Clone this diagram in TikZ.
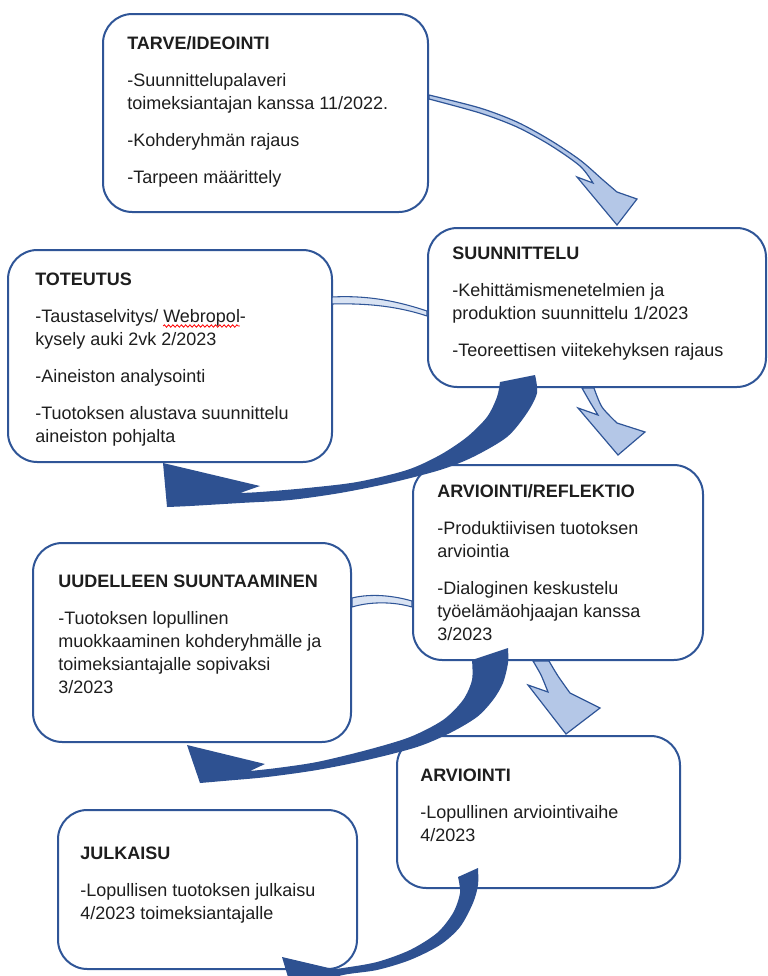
\documentclass[tikz,border=0pt]{standalone}
\usepackage{fontspec}
\setmainfont{Liberation Sans}
\usetikzlibrary{decorations.pathmorphing}
\definecolor{bordblue}{HTML}{2F5597}
\definecolor{darkarrow}{HTML}{2E5191}
\definecolor{lightarrow}{HTML}{B4C7E7}
\definecolor{txt}{HTML}{1E1E1E}
\newlength\wavestart
\newlength\wavelen
\newcommand\lines[1]{\begin{tabular}[t]{@{}l@{}}#1\end{tabular}}
\begin{document}
\settowidth\wavestart{\fontsize{13.5}{17.25}\selectfont -Taustaselvitys/ }%
\settowidth\wavelen{\fontsize{13.5}{17.25}\selectfont Webropol}%
\begin{tikzpicture}[x=0.75pt,y=-0.75pt,
  box/.style={draw=bordblue, line width=1.5pt, fill=white, rounded corners=22pt, inner sep=0pt},
  txtnode/.style={anchor=base west, inner sep=0pt, text=txt, font=\fontsize{13.5}{17.25}\selectfont},
  darr/.style={fill=darkarrow},
  larr/.style={fill=lightarrow, draw=bordblue, line width=0.9pt, line join=miter},
  ribbon/.style={fill=lightarrow!50!white, draw=bordblue, line width=0.8pt}]
\useasboundingbox (0,0) rectangle (768,976);
\clip (0,0) rectangle (768,976);

% boxes
\node[box, minimum width=243.75pt, minimum height=148.5pt] (tarve) at (265.5,113) {};
\node[box, minimum width=253.5pt, minimum height=119.25pt] (suun) at (597,307.5) {};
\node[box, minimum width=243pt, minimum height=159pt] (tot) at (170,356) {};
\node[box, minimum width=217.5pt, minimum height=146.25pt] (arvref) at (558,562.5) {};
\node[box, minimum width=238.5pt, minimum height=149.25pt] (uud) at (192,642.5) {};
\node[box, minimum width=212.25pt, minimum height=114pt] (arv) at (538.5,812) {};
\node[box, minimum width=224.25pt, minimum height=119.25pt] (julk) at (207.5,889.5) {};

% texts
\node[txtnode] (t1) at (127,49) {\lines{\textbf{TARVE/IDEOINTI}\\[10.5pt]-Suunnittelupalaveri\\toimeksiantajan kanssa 11/2022.\\[10.5pt]-Kohderyhmän rajaus\\[10.5pt]-Tarpeen määrittely}};
\node[txtnode] (t2) at (452,259) {\lines{\textbf{SUUNNITTELU}\\[10.5pt]-Kehittämismenetelmien ja\\produktion suunnittelu 1/2023\\[10.5pt]-Teoreettisen viitekehyksen rajaus}};
\node[txtnode] (t3) at (35,285) {\lines{\textbf{TOTEUTUS}\\[10.5pt]-Taustaselvitys/ Webropol-\\kysely auki 2vk 2/2023\\[10.5pt]-Aineiston analysointi\\[10.5pt]-Tuotoksen alustava suunnittelu\\aineiston pohjalta}};
\node[txtnode] (t4) at (437,497) {\lines{\textbf{ARVIOINTI/REFLEKTIO}\\[10.5pt]-Produktiivisen tuotoksen\\arviointia\\[10.5pt]-Dialoginen keskustelu\\työelämäohjaajan kanssa\\3/2023}};
\node[txtnode] (t5) at (58,587) {\lines{\textbf{UUDELLEEN SUUNTAAMINEN}\\[10.5pt]-Tuotoksen lopullinen\\muokkaaminen kohderyhmälle ja\\toimeksiantajalle sopivaksi\\3/2023}};
\node[txtnode] (t6) at (420,781) {\lines{\textbf{ARVIOINTI}\\[10.5pt]-Lopullinen arviointivaihe\\4/2023}};
\node[txtnode] (t7) at (80,859) {\lines{\textbf{JULKAISU}\\[10.5pt]-Lopullisen tuotoksen julkaisu\\4/2023 toimeksiantajalle}};

% spell-check wave
\draw[red, line width=0.6pt, decorate, decoration={snake, amplitude=0.9pt, segment length=3.2pt}] ([xshift=\wavestart]35,326) -- ([xshift=\wavestart+\wavelen]35,326);

% thin ribbons
\filldraw[ribbon] (332,297) .. controls (370,295) and (400,302) .. (427,311) -- (427,316) .. controls (400,307) and (370,303) .. (332,304) -- cycle;
\filldraw[ribbon] (352,598) .. controls (372,593) and (395,596) .. (412,601) -- (412,607) .. controls (395,602) and (372,601) .. (352,607) -- cycle;

% light arrows
\filldraw[larr] plot[smooth] coordinates {(429,95) (480,108) (517,122) (550,140) (580,160) (603,180) (617,192)} -- (637,199) -- (617,225) -- (577,177) -- (593,183) -- plot[smooth] coordinates {(593,183) (580,166) (550,145) (517,127) (480,113) (429,99)} -- cycle;
\filldraw[larr] plot[smooth] coordinates {(594,388) (602,407) (617,423)} -- (645,432) -- (618,455) -- (578,408) -- (598,415) -- plot[smooth] coordinates {(598,415) (590,402) (582,388)} -- cycle;
\filldraw[larr] plot[smooth] coordinates {(549,661) (558,676) (570,693)} -- (600,708) -- (566,734) -- (528,685) -- (548,692) -- plot[smooth] coordinates {(548,692) (541,675) (533,661)} -- cycle;

% dark curved arrows
\fill[darr] plot[smooth] coordinates {(535,375) (537,393) (527,413) (507,437) (473,457) (440,470) (390,483) (340,493) (290,500) (240,503) (190,506) (167,507)} -- (163,463) -- (260,486) -- (240,493) -- plot[smooth] coordinates {(240,493) (260,492) (307,488) (357,482) (407,470) (440,455) (467,437) (487,417) (497,397) (500,382)} -- cycle;
\fill[darr] plot[smooth] coordinates {(508,648) (508,663) (503,683) (493,700) (477,717) (450,733) (417,747) (367,760) (317,770) (267,777) (223,781) (200,783)} -- (187,745) -- (265,764) -- (250,771) -- plot[smooth] coordinates {(250,771) (277,768) (317,762) (367,750) (410,737) (443,720) (463,700) (472,680) (472,660)} -- cycle;
\fill[darr] plot[smooth] coordinates {(478,868) (478,885) (473,903) (460,927) (440,945) (410,960) (377,970) (343,975) (310,985) (294,997)} -- (282,957) -- (333,969) -- plot[smooth] coordinates {(333,969) (343,968) (377,962) (410,950) (437,933) (453,913) (460,893) (458,877)} -- cycle;
\end{tikzpicture}
\end{document}
